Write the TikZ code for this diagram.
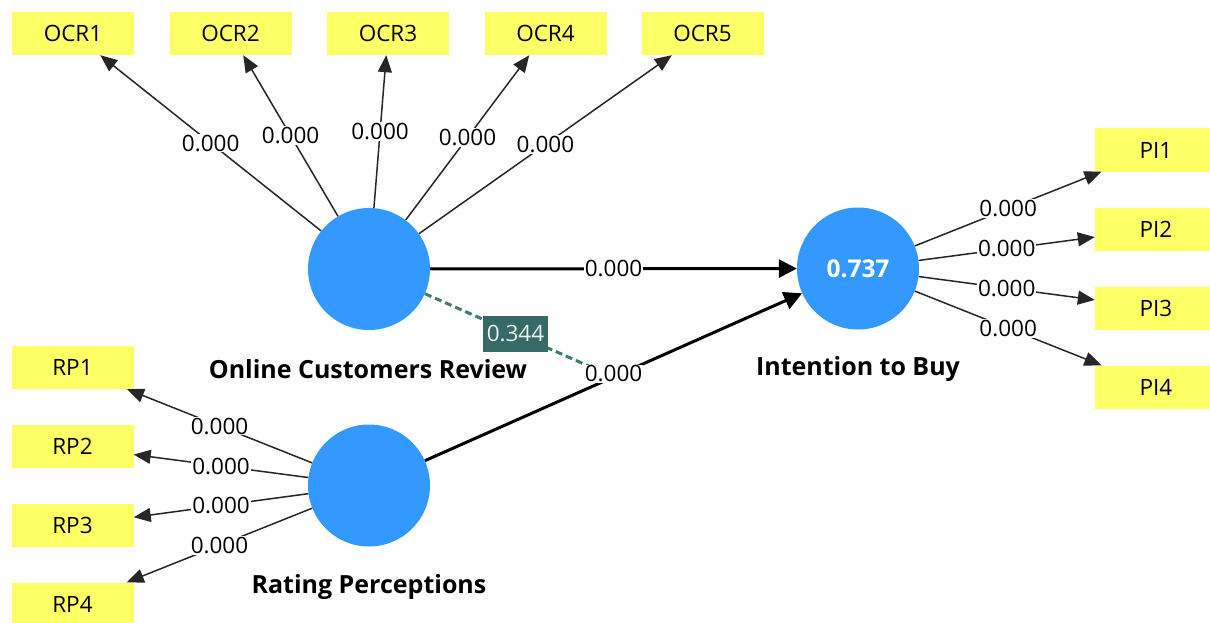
\documentclass[tikz,border=0pt]{standalone}
\usepackage{fontspec}
\setmainfont{Open Sans}
\usetikzlibrary{arrows.meta}
\definecolor{lvblue}{RGB}{51,153,255}
\definecolor{indyel}{RGB}{255,255,102}
\definecolor{modteal}{RGB}{53,106,102}
\definecolor{modline}{RGB}{63,122,115}
\begin{document}
\begin{tikzpicture}[x=1pt,y=-1pt,
  ind/.style={fill=indyel, minimum width=122pt, minimum height=43pt, inner sep=0pt, font=\fontsize{22.5}{26}\selectfont},
  lv/.style={circle, fill=lvblue, minimum size=122pt, inner sep=0pt},
  lvname/.style={font=\fontsize{25}{28}\selectfont\bfseries},
  load/.style={draw=black!85, line width=1.5pt, -{Triangle[length=17pt,width=14pt]}},
  struct/.style={draw=black, line width=3pt, -{Triangle[length=18pt,width=18pt]}},
  coef/.style={fill=white, inner sep=1pt, font=\fontsize{22.5}{26}\selectfont},
]
\useasboundingbox (0,0) rectangle (1210,623);
\clip (0,0) rectangle (1210,623);

% latent variables
\node[lv] (ocr) at (369,269) {};
\node[lv] (rp) at (369,485.5) {};
\node[lv, text=white, font=\fontsize{24.5}{28}\selectfont\bfseries] (itb) at (858,268.5) {0.737};
\node[lvname] (ocrname) at (368,369) {Online Customers Review};
\node[lvname] (rpname) at (369,587) {Rating Perceptions};
\node[lvname] (itbname) at (858,369) {Intention to Buy};

% indicators
\node[ind] (ocr1) at (73,33.5) {OCR1};
\node[ind] (ocr2) at (230.5,33.5) {OCR2};
\node[ind] (ocr3) at (388,33.5) {OCR3};
\node[ind] (ocr4) at (545.5,33.5) {OCR4};
\node[ind] (ocr5) at (702.5,33.5) {OCR5};
\node[ind] (rp1) at (72.5,367.5) {RP1};
\node[ind] (rp2) at (72.5,446.5) {RP2};
\node[ind] (rp3) at (72.5,525.5) {RP3};
\node[ind] (rp4) at (72.5,604) {RP4};
\node[ind] (pi1) at (1156,150) {PI1};
\node[ind] (pi2) at (1156,229) {PI2};
\node[ind] (pi3) at (1156,308) {PI3};
\node[ind] (pi4) at (1156,387) {PI4};

% outer loadings
\foreach \i in {1,...,5}{
  \draw[load] (ocr) -- node[coef]{0.000} (ocr\i);
}
\foreach \i in {1,...,4}{
  \draw[load] (rp) -- node[coef]{0.000} (rp\i);
  \draw[load] (itb) -- node[coef]{0.000} (pi\i);
}

% structural paths
\draw[struct] (ocr) -- node[coef]{0.000} (itb);
\draw[struct] (rp) -- coordinate[midway] (m) (itb);
\draw[modline, line width=3pt, dash pattern=on 7pt off 4pt] (ocr) -- node[pos=0.48, fill=modteal, text=white!90!modteal, inner xsep=4pt, inner ysep=0pt, minimum height=36pt, font=\fontsize{22.5}{26}\selectfont]{0.344} (m);
\node[coef] (mlabel) at ([yshift=3pt]m) {0.000};
\end{tikzpicture}
\end{document}
